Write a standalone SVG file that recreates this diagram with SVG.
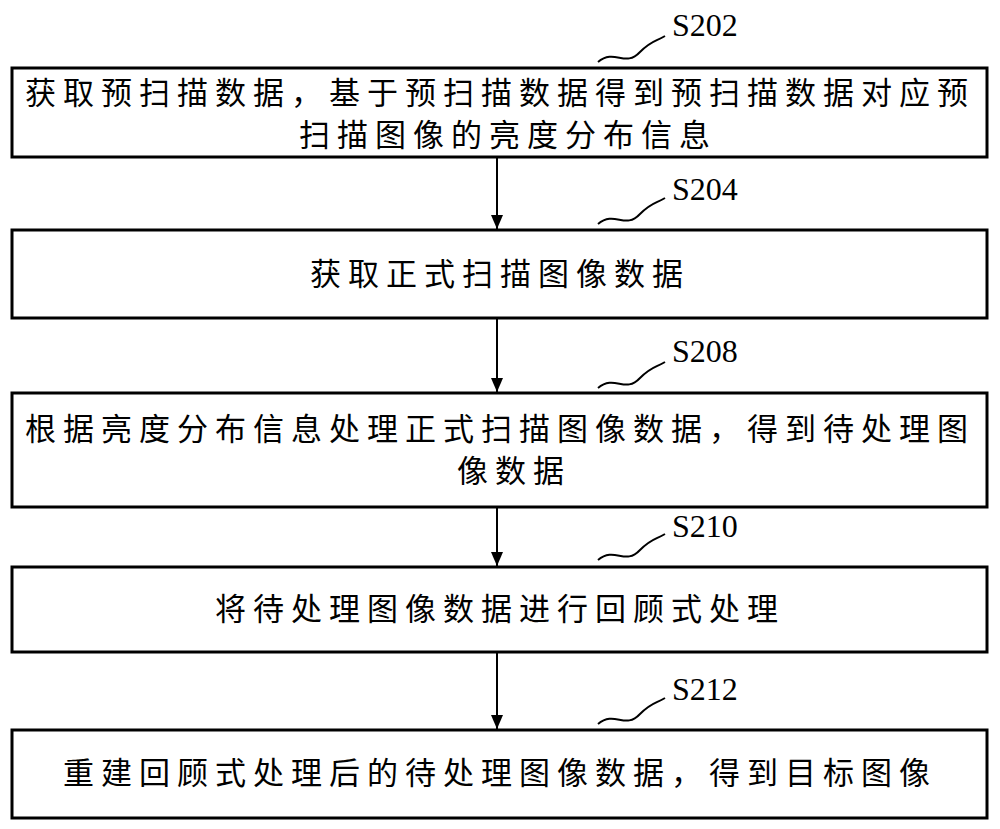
<svg xmlns="http://www.w3.org/2000/svg" width="1000" height="829" viewBox="0 0 1000 829">
<style>
.b{fill:#fff;stroke:#000;stroke-width:3}
.t{font-family:"Noto Sans CJK SC",sans-serif;font-size:31px;letter-spacing:7px;fill:#000;text-anchor:middle}
.l{font-family:"Liberation Serif",serif;font-size:32px;fill:#000}
.c{fill:none;stroke:#000;stroke-width:2}
</style>
<defs><marker id="a" markerWidth="14" markerHeight="12" refX="14" refY="6" orient="auto" markerUnits="userSpaceOnUse" viewBox="0 0 14 12"><path d="M0,0 L14,6 L0,12 Z" fill="#000"/></marker></defs>
<g id="conn">
<line class="c" x1="497" y1="157" x2="497" y2="229" marker-end="url(#a)"/>
<line class="c" x1="497" y1="318" x2="497" y2="392" marker-end="url(#a)"/>
<line class="c" x1="497" y1="507" x2="497" y2="566" marker-end="url(#a)"/>
<line class="c" x1="497" y1="652" x2="497" y2="729" marker-end="url(#a)"/>
<path class="c" d="M598,62 C615,48 625,68 640,52 C652,40 655,42 665,36"/>
<path class="c" d="M598,224 C615,210 625,230 640,214 C652,202 655,204 665,198"/>
<path class="c" d="M598,388 C615,374 625,394 640,378 C652,366 655,368 665,362"/>
<path class="c" d="M598,560 C615,546 625,566 640,550 C652,538 655,540 665,534"/>
<path class="c" d="M598,724 C615,710 625,730 640,714 C652,702 655,704 665,698"/>
</g>
<g id="n1"><rect class="b" x="12" y="68" width="975" height="89"/>
<text class="t" x="500" y="104">获取预扫描数据，基于预扫描数据得到预扫描数据对应预</text>
<text class="t" x="508" y="146">扫描图像的亮度分布信息</text>
<text class="l" x="672" y="36">S202</text></g>
<g id="n2"><rect class="b" x="12" y="230" width="975" height="88"/>
<text class="t" x="500" y="285">获取正式扫描图像数据</text>
<text class="l" x="672" y="200">S204</text></g>
<g id="n3"><rect class="b" x="12" y="393" width="975" height="114"/>
<text class="t" x="500" y="440">根据亮度分布信息处理正式扫描图像数据，得到待处理图</text>
<text class="t" x="514" y="482">像数据</text>
<text class="l" x="672" y="362">S208</text></g>
<g id="n4"><rect class="b" x="12" y="567" width="975" height="85"/>
<text class="t" x="500" y="620">将待处理图像数据进行回顾式处理</text>
<text class="l" x="672" y="537">S210</text></g>
<g id="n5"><rect class="b" x="12" y="730" width="975" height="88"/>
<text class="t" x="500" y="784">重建回顾式处理后的待处理图像数据，得到目标图像</text>
<text class="l" x="672" y="700">S212</text></g>
</svg>
